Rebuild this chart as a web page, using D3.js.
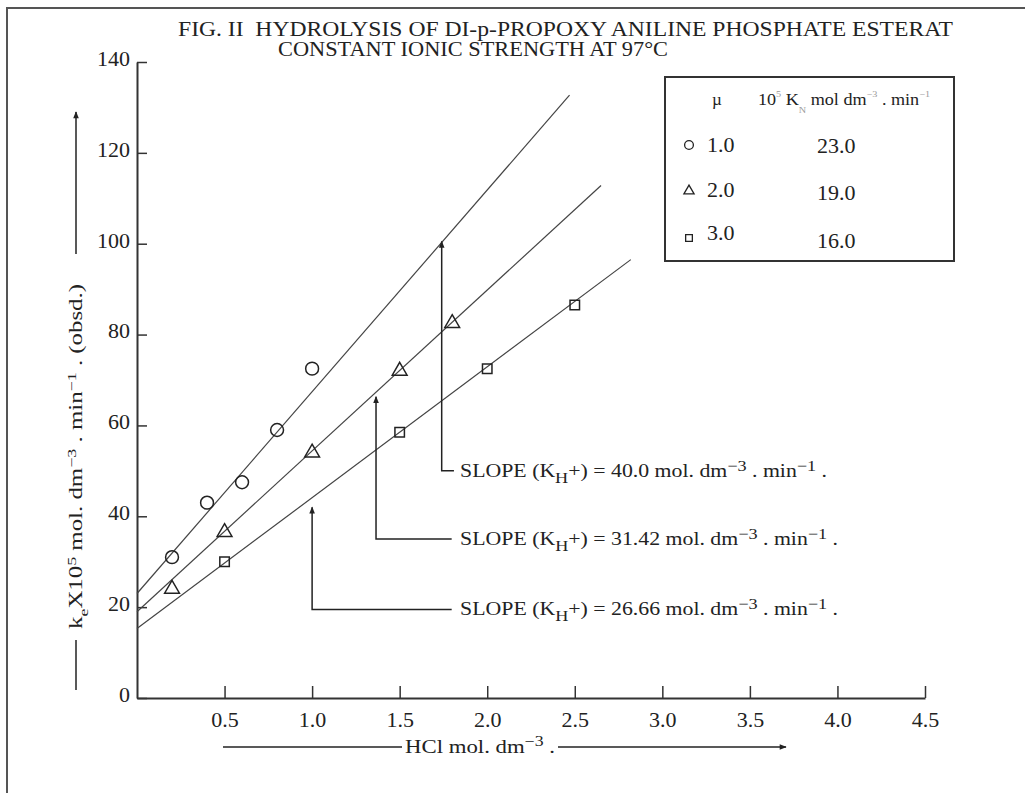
<!DOCTYPE html>
<html>
<head>
<meta charset="utf-8">
<script src="https://cdn.jsdelivr.net/npm/d3@7"></script>
<style>
  html, body { margin: 0; padding: 0; background: #fff; }
  svg { display: block; font-family: "Liberation Serif", "DejaVu Serif", serif; }
</style>
</head>
<body>
<div id="chart"></div>
<script>
const circleX = [0.2, 0.4, 0.6, 0.8, 1.0];
const circleY = [31, 43, 47.5, 59, 72.5];
const triangleX = [0.2, 0.5, 1.0, 1.5, 1.8];
const triangleY = [24, 36.5, 54, 72, 82.5];
const squareX = [0.5, 1.5, 2.0, 2.5];
const squareY = [30, 58.5, 72.5, 86.5];

// fitted lines (start / end points), one per ionic strength
const lineX0 = [0, 0, 0];
const lineY0 = [23, 19, 15.3];
const lineX1 = [2.47, 2.65, 2.82];
const lineY1 = [132.7, 112.8, 96.5];

// legend
const muLabels = ["1.0", "2.0", "3.0"];
const kNLabels = ["23.0", "19.0", "16.0"];
const symbols = ["circle", "triangle", "square"];

// slope annotations
const slopeValues = ["40.0", "31.42", "26.66"];
const slopeTipX = [1.74, 1.365, 1.0];
const slopeTipY = [100.5, 66.3, 42];
const slopeElbowY = [50, 35, 19.5];
const slopeLeaderEndX = [1.81, 1.797, 1.797];
const slopeTextX = 1.845;

// ticks
const xTicks = [0.5, 1.0, 1.5, 2.0, 2.5, 3.0, 3.5, 4.0, 4.5];
const yTicks = [0, 20, 40, 60, 80, 100, 120, 140];

const width = 1025, height = 793;
const ink = "#222";

const svg = d3.select("#chart").append("svg")
    .attr("width", width)
    .attr("height", height);

svg.append("rect").attr("width", width).attr("height", height).attr("fill", "#fff");

// arrow head marker
svg.append("defs").append("marker")
    .attr("id", "arrow")
    .attr("viewBox", "0 0 10 10")
    .attr("refX", 9).attr("refY", 5)
    .attr("markerWidth", 10).attr("markerHeight", 7)
    .attr("markerUnits", "userSpaceOnUse")
    .attr("orient", "auto")
    .append("path")
    .attr("d", "M0,1 L10,5 L0,9 Z")
    .attr("fill", ink);

// outer frame (only top and left edges show)
svg.append("path")
    .attr("d", "M7,793 L7,8 L1025,8")
    .attr("fill", "none").attr("stroke", "#555").attr("stroke-width", 2);

const x = d3.scaleLinear().domain([0, 4.5]).range([137, 925]);
const y = d3.scaleLinear().domain([0, 140]).range([698, 62]);

// axes
const yAxis = svg.append("g")
    .attr("transform", `translate(${x(0)},0)`)
    .call(d3.axisLeft(y).tickValues(yTicks).tickFormat(d3.format("d"))
        .tickSizeInner(-10).tickSizeOuter(0).tickPadding(7));

const xAxis = svg.append("g")
    .attr("transform", `translate(0,${y(0)})`)
    .call(d3.axisBottom(x).tickValues(xTicks).tickFormat(d3.format(".1f"))
        .tickSizeInner(-12).tickSizeOuter(0).tickPadding(13));

[yAxis, xAxis].forEach(g => {
    g.select(".domain").attr("stroke", "#333").attr("stroke-width", 2);
    g.selectAll(".tick line").attr("stroke", "#333").attr("stroke-width", 1.5);
    g.selectAll(".tick text")
        .attr("fill", ink)
        .attr("font-family", "Liberation Serif, serif")
        .attr("font-size", 22);
});
yAxis.selectAll(".tick text").attr("dy", "0.15em");

// fitted lines
const lines = d3.range(3).map(i => [[lineX0[i], lineY0[i]], [lineX1[i], lineY1[i]]]);
svg.append("g").selectAll("line")
    .data(lines)
    .enter()
    .append("line")
    .attr("x1", d => x(d[0][0])).attr("y1", d => y(d[0][1]))
    .attr("x2", d => x(d[1][0])).attr("y2", d => y(d[1][1]))
    .attr("stroke", "#444").attr("stroke-width", 1.2);

// markers
const symbolPath = {
    circle: d3.symbol(d3.symbolCircle, 130)(),
    triangle: d3.symbol(d3.symbolTriangle, 95)(),
    square: d3.symbol(d3.symbolSquare, 90)()
};
function drawPoints(xs, ys, type) {
    svg.append("g").selectAll("path")
        .data(xs.map((v, i) => [v, ys[i]]))
        .enter()
        .append("path")
        .attr("d", symbolPath[type])
        .attr("transform", d => `translate(${x(d[0])},${y(d[1])})`)
        .attr("fill", "none").attr("stroke", ink).attr("stroke-width", 1.5);
}
drawPoints(circleX, circleY, "circle");
drawPoints(triangleX, triangleY, "triangle");
drawPoints(squareX, squareY, "square");

// text with sub / superscripts
function richText(sel, parts, small, shift) {
    let offset = 0;
    parts.forEach(p => {
        const t = sel.append("tspan").text(p[0]);
        const target = p[1] === "sub" ? shift : p[1] === "sup" ? -shift : 0;
        t.attr("dy", target - offset);
        offset = target;
        if (p[1]) t.attr("font-size", small);
    });
}

// slope annotations
slopeValues.forEach((v, i) => {
    svg.append("path")
        .attr("d", `M${x(slopeLeaderEndX[i])},${y(slopeElbowY[i])} L${x(slopeTipX[i])},${y(slopeElbowY[i])} L${x(slopeTipX[i])},${y(slopeTipY[i])}`)
        .attr("fill", "none").attr("stroke", ink).attr("stroke-width", 1.5)
        .attr("marker-end", "url(#arrow)");
    const t = svg.append("text")
        .attr("x", x(slopeTextX)).attr("y", y(slopeElbowY[i]) + 6)
        .attr("font-size", 18).attr("fill", ink)
        .attr("textLength", i === 0 ? 367 : 378)
        .attr("lengthAdjust", "spacingAndGlyphs");
    richText(t, [["SLOPE (K"], ["H", "sub"], ["+) = " + v + " mol. dm"], ["\u22123", "sup"], [" . min"], ["\u22121", "sup"], [" ."]], 15, 6);
});

// title
svg.append("text").attr("x", 178).attr("y", 36)
    .attr("font-size", 22).attr("fill", ink)
    .attr("textLength", 775).attr("lengthAdjust", "spacingAndGlyphs")
    .text("FIG. II\u00a0\u00a0HYDROLYSIS OF DI-p-PROPOXY ANILINE PHOSPHATE ESTERAT");
svg.append("text").attr("x", 278).attr("y", 56)
    .attr("font-size", 22).attr("fill", ink)
    .attr("textLength", 390).attr("lengthAdjust", "spacingAndGlyphs")
    .text("CONSTANT IONIC STRENGTH AT 97\u00b0C");

// legend box
const legend = svg.append("g");
legend.append("rect")
    .attr("x", 665).attr("y", 77).attr("width", 289).attr("height", 184)
    .attr("fill", "#fff").attr("stroke", "#333").attr("stroke-width", 2);
legend.append("text").attr("x", 717).attr("y", 105)
    .attr("text-anchor", "middle").attr("font-size", 17).attr("fill", ink)
    .text("\u00b5");
const head = legend.append("text").attr("x", 758).attr("y", 105)
    .attr("font-size", 16).attr("fill", ink)
    .attr("textLength", 172).attr("lengthAdjust", "spacingAndGlyphs");
richText(head, [["10"], ["5", "sup"], [" K"], ["N", "sub"], [" mol dm"], ["\u22123", "sup"], [" . min"], ["\u22121", "sup"]], 9, 8);
head.selectAll("tspan").filter(function () { return this.getAttribute("font-size"); })
    .attr("fill", "#999");

const rowSymbolY = [145, 191, 238];
const rowMuY = [152, 197, 240];
const rowKY = [153, 200, 248];
symbols.forEach((s, i) => {
    legend.append("path")
        .attr("d", d3.symbol(s === "circle" ? d3.symbolCircle : s === "triangle" ? d3.symbolTriangle : d3.symbolSquare, s === "circle" ? 60 : 45)())
        .attr("transform", `translate(689,${rowSymbolY[i]})`)
        .attr("fill", "none").attr("stroke", ink).attr("stroke-width", 1.3);
    legend.append("text").attr("x", 707).attr("y", rowMuY[i])
        .attr("font-size", 22).attr("fill", ink).text(muLabels[i]);
    legend.append("text").attr("x", 817).attr("y", rowKY[i])
        .attr("font-size", 22).attr("fill", ink).text(kNLabels[i]);
});

// x axis title with arrow
svg.append("line").attr("x1", 223).attr("x2", 402).attr("y1", 747).attr("y2", 747)
    .attr("stroke", ink).attr("stroke-width", 1.5);
const xt = svg.append("text").attr("x", 405).attr("y", 753)
    .attr("font-size", 18).attr("fill", ink)
    .attr("textLength", 150).attr("lengthAdjust", "spacingAndGlyphs");
richText(xt, [["HCl mol. dm"], ["\u22123", "sup"], [" ."]], 14, 7);
svg.append("line").attr("x1", 558).attr("x2", 786).attr("y1", 747).attr("y2", 747)
    .attr("stroke", ink).attr("stroke-width", 1.5).attr("marker-end", "url(#arrow)");

// y axis title with arrow
svg.append("line").attr("x1", 76).attr("x2", 76).attr("y1", 254).attr("y2", 112)
    .attr("stroke", ink).attr("stroke-width", 1.5).attr("marker-end", "url(#arrow)");
const yt = svg.append("text")
    .attr("transform", "translate(82,629) rotate(-90)")
    .attr("font-size", 18).attr("fill", ink)
    .attr("textLength", 345).attr("lengthAdjust", "spacingAndGlyphs");
richText(yt, [["k"], ["e", "sub"], ["X10"], ["5", "sup"], [" mol. dm"], ["\u22123", "sup"], [" . min"], ["\u22121", "sup"], [" . (obsd.)"]], 13, 6);
svg.append("line").attr("x1", 76).attr("x2", 76).attr("y1", 640).attr("y2", 690)
    .attr("stroke", ink).attr("stroke-width", 1.5);
</script>
</body>
</html>
